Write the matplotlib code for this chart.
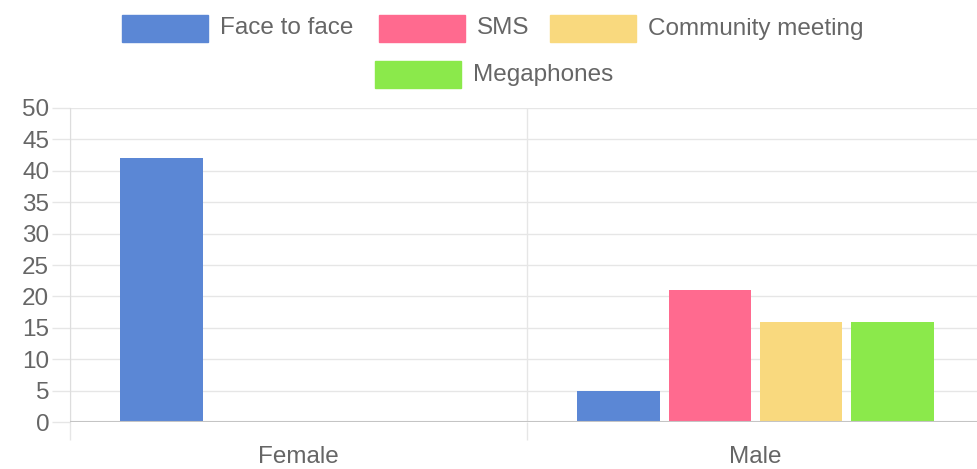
import numpy as np
import matplotlib
matplotlib.use("Agg")
import matplotlib.pyplot as plt
from matplotlib.patches import Rectangle

categories = ["Female", "Male"]
series = ["Face to face", "SMS", "Community meeting", "Megaphones"]
values = {
    "Face to face": [42, 5],
    "SMS": [0, 21],
    "Community meeting": [0, 16],
    "Megaphones": [0, 16],
}
colors = ["#5b87d5", "#ff6a8f", "#f9d97e", "#8be94b"]

plt.rcParams["font.family"] = ["Liberation Sans", "DejaVu Sans"]
W, H = 977, 469
fig = plt.figure(figsize=(W / 100, H / 100), dpi=100)
ax = fig.add_axes([70 / W, (H - 422) / H, 914 / W, (422 - 108) / H])

x = np.arange(len(categories))
slot = 0.2
for i, name in enumerate(series):
    ax.bar(x + (i - 1.5) * slot, values[name], width=0.18, color=colors[i], zorder=3)

ax.set_xlim(-0.5, 1.5)
ax.set_ylim(0, 50)
ax.set_yticks(np.arange(0, 51, 5))
ax.set_xticks(x)
ax.set_xticklabels(categories)
ax.set_xticks([-0.5, 0.5, 1.5], minor=True)

grid_c = "#e6e6e6"
txt_c = "#666666"
ax.grid(axis="y", color=grid_c, lw=1, zorder=0)
ax.grid(axis="x", which="minor", color=grid_c, lw=1, zorder=0)
ax.axhline(0, color="#c4c4c4", lw=1.5, zorder=4)

ax.tick_params(axis="y", length=13, width=1, color=grid_c, pad=2,
               labelsize=17.5, labelcolor=txt_c)
ax.tick_params(axis="x", which="major", length=0, pad=17,
               labelsize=17.5, labelcolor=txt_c)
ax.tick_params(axis="x", which="minor", length=13, width=1, color=grid_c)

for s in ["top", "right", "bottom"]:
    ax.spines[s].set_visible(False)
ax.spines["left"].set_color("#dddddd")

# legend, chart.js style, two centered rows
legend_pos = [(122, 15), (379, 15), (550, 15), (375, 61)]
for (px, py), name, c in zip(legend_pos, series, colors):
    fig.add_artist(Rectangle((px / W, 1 - (py + 27) / H), 86 / W, 27 / H,
                             transform=fig.transFigure, color=c))
    fig.text((px + 98) / W, 1 - (py + 13.5) / H, name, fontsize=17.5,
             color=txt_c, va="center", ha="left")

fig.savefig("out.png", dpi=100)
